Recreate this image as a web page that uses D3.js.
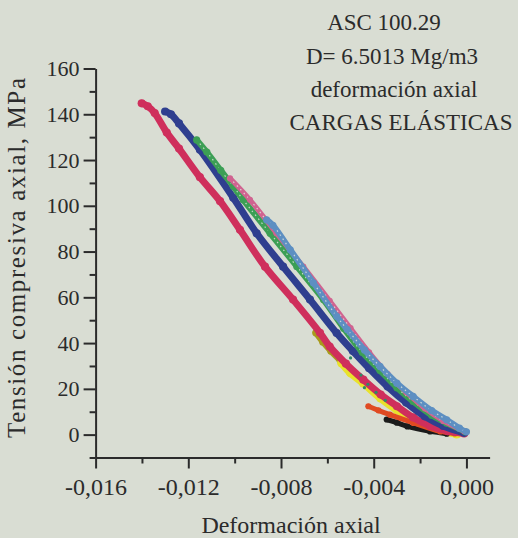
<!DOCTYPE html>
<html>
<head>
<meta charset="utf-8">
<script src="https://cdn.jsdelivr.net/npm/d3@7"></script>
<style>
  html, body { margin: 0; padding: 0; background: #d9ddd3; }
  svg { display: block; }
  text { font-family: "Liberation Serif", "Times New Roman", serif; fill: #2b2b2b; }
</style>
</head>
<body>
<svg id="chart" width="518" height="538"></svg>
<script>
// Ensayo ASC 100.29: ciclos de carga elástica, deformación axial vs. tensión (MPa)
const tituloLineas = ["ASC 100.29", "D= 6.5013 Mg/m3", "deformación axial", "CARGAS ELÁSTICAS"];
const ejeX = "Deformación axial";
const ejeY = "Tensión compresiva axial, MPa";

const ticksX = [-0.016, -0.012, -0.008, -0.004, 0.000];
const ticksXMenores = [-0.014, -0.010, -0.006, -0.002];
const ticksY = [0, 20, 40, 60, 80, 100, 120, 140, 160];
const ticksYMenores = [-10, 10, 30, 50, 70, 90, 110, 130, 150];

// [deformación, tensión MPa]
const cicloCarmesi = [
  [-0.01401, 144.8], [-0.01375, 143.5], [-0.01345, 140.5], [-0.01293, 132], [-0.01240, 125],
  [-0.01150, 112.5], [-0.01063, 102], [-0.00977, 89.5], [-0.00869, 73.4], [-0.00748, 59],
  [-0.00632, 44.5], [-0.00590, 38.5], [-0.00520, 31], [-0.00445, 24], [-0.00370, 17.5],
  [-0.00300, 12.4], [-0.00230, 7.5], [-0.00157, 3.8], [-0.00080, 1.5], [-0.00010, 0.5]
];
const cicloAzul = [
  [-0.01300, 141.2], [-0.01275, 140], [-0.01240, 136], [-0.01150, 124.5], [-0.01006, 103.5],
  [-0.00905, 88], [-0.00791, 73.4], [-0.00675, 59], [-0.00560, 44.4], [-0.00490, 36.5],
  [-0.00420, 29], [-0.00340, 21], [-0.00260, 14], [-0.00180, 8], [-0.00100, 3.8], [-0.00010, 0.8]
];
const cicloVerde = [
  [-0.01164, 128.8], [-0.01120, 123.5], [-0.01060, 115.5], [-0.01006, 108.5], [-0.00963, 102.6],
  [-0.00847, 88], [-0.00732, 73.5], [-0.00617, 59], [-0.00530, 46.5], [-0.00450, 36],
  [-0.00373, 28], [-0.00300, 20.5], [-0.00230, 14.5], [-0.00150, 8.5], [-0.00085, 5], [-0.00005, 1.2]
];
const cicloRosa = [
  [-0.01020, 112], [-0.00934, 102.6], [-0.00820, 88], [-0.00704, 73.4], [-0.00590, 58.5],
  [-0.00500, 46.5], [-0.00420, 36], [-0.00340, 26.5], [-0.00260, 18.5], [-0.00180, 11.5],
  [-0.00100, 6], [-0.00010, 1.5]
];
const cicloCeleste = [
  [-0.00862, 93.9], [-0.00835, 91.5], [-0.00760, 80.8], [-0.00660, 66.3], [-0.00560, 51.7],
  [-0.00514, 45.9], [-0.00440, 37], [-0.00373, 29.8], [-0.00300, 22.5], [-0.00230, 16.7],
  [-0.00150, 10.5], [-0.00085, 6.5], [-0.00030, 2.8], [0.00000, 1.2]
];
const cicloOliva = [
  [-0.00650, 44.5], [-0.00620, 40.5], [-0.00585, 36.5], [-0.00545, 32.5]
];
const cicloAmarillo = [
  [-0.00538, 31.3], [-0.00500, 27], [-0.00445, 22.6], [-0.00370, 16], [-0.00300, 10.9],
  [-0.00230, 6.8], [-0.00157, 3.6], [-0.00090, 1.4], [-0.00042, 0.3]
];
const cicloNaranja = [
  [-0.00423, 12.4], [-0.00380, 10.6], [-0.00330, 8.7], [-0.00229, 5.1], [-0.00113, 1.4], [-0.00050, 0.5]
];
const cicloNegro = [
  [-0.00344, 6.6], [-0.00300, 5.2], [-0.00255, 3.6], [-0.00157, 1.4], [-0.00085, 0.4]
];
const puntosSueltos = [
  [-0.00500, 33.5], [-0.00455, 26], [-0.00425, 22], [-0.00390, 18.5], [-0.00440, 20.5], [-0.00350, 15]
];

const series = [
  { datos: cicloOliva, color: "#a89a1c", ancho: 6, hueco: false },
  { datos: cicloAmarillo, color: "#e8e22c", ancho: 8, hueco: false },
  { datos: cicloNegro, color: "#1b1b1b", ancho: 5, hueco: false },
  { datos: cicloNaranja, color: "#e04a22", ancho: 5, hueco: false },
  { datos: cicloCarmesi, color: "#cf2f5c", ancho: 7, hueco: false },
  { datos: cicloAzul, color: "#2f3f8f", ancho: 7, hueco: false },
  { datos: cicloVerde, color: "#3c9f55", ancho: 6, hueco: true },
  { datos: cicloRosa, color: "#d06390", ancho: 5, hueco: true },
  { datos: cicloCeleste, color: "#5d8fc2", ancho: 6, hueco: true }
];

const svg = d3.select("#chart");

const x = d3.scaleLinear().domain([-0.016, 0.001]).range([95.6, 489.6]);
const y = d3.scaleLinear().domain([-10, 160]).range([457.5, 68.5]);

const formatoX = v => d3.format(".3f")(v).replace("−", "-").replace(".", ",");

// Ejes
const gx = svg.append("g").attr("transform", `translate(0,${y(-10)})`);
gx.call(d3.axisBottom(x).tickValues(ticksX).tickSize(11).tickSizeOuter(0).tickPadding(9).tickFormat(formatoX));
gx.append("g").call(d3.axisBottom(x).tickValues(ticksXMenores).tickSize(6).tickSizeOuter(0).tickFormat(""))
  .select(".domain").remove();
gx.selectAll("text").attr("font-size", 24).attr("dy", "0.71em");

const gy = svg.append("g").attr("transform", `translate(${x(-0.016)},0)`);
gy.call(d3.axisLeft(y).tickValues(ticksY).tickSize(12).tickSizeOuter(0).tickPadding(4).tickFormat(d3.format("d")));
gy.append("g").call(d3.axisLeft(y).tickValues(ticksYMenores).tickSize(6).tickSizeOuter(0).tickFormat(""))
  .select(".domain").remove();
gy.selectAll("text").attr("font-size", 22);

svg.selectAll(".domain, .tick line").attr("stroke", "#2b2b2b").attr("stroke-width", 2);
svg.selectAll(".tick text").attr("fill", "#2b2b2b");

// Curvas de carga
const linea = d3.line().x(d => x(d[0])).y(d => y(d[1])).curve(d3.curveCatmullRom.alpha(0.5));
const capa = svg.append("g");
series.forEach(s => {
  capa.append("path").attr("d", linea(s.datos)).attr("fill", "none")
    .attr("stroke", s.color).attr("stroke-width", s.ancho)
    .attr("stroke-linecap", "round").attr("stroke-linejoin", "round");
  if (s.hueco) {
    capa.append("path").attr("d", linea(s.datos)).attr("fill", "none")
      .attr("stroke", "#e4e8e0").attr("stroke-width", 1.2)
      .attr("stroke-dasharray", "1.5 3.5").attr("opacity", 0.8);
  }
  capa.selectAll(null).data(s.datos).join("circle")
    .attr("cx", d => x(d[0])).attr("cy", d => y(d[1])).attr("r", s.ancho / 2 + 0.6)
    .attr("fill", s.color);
});
capa.selectAll(null).data(puntosSueltos).join("circle")
  .attr("cx", d => x(d[0])).attr("cy", d => y(d[1])).attr("r", 1.6).attr("fill", "#2e8a66");

// Títulos
const posTitulo = [[384, 30], [392, 64], [394, 97], [401, 130]];
svg.append("g").selectAll("text").data(tituloLineas).join("text")
  .attr("x", (d, i) => posTitulo[i][0]).attr("y", (d, i) => posTitulo[i][1])
  .attr("text-anchor", "middle").attr("font-size", 23).text(d => d);

svg.append("text").attr("x", 291).attr("y", 533).attr("text-anchor", "middle")
  .attr("font-size", 24).text(ejeX);

svg.append("text").attr("transform", "translate(25,258) rotate(-90)")
  .attr("text-anchor", "middle").attr("font-size", 25)
  .attr("textLength", 360).attr("lengthAdjust", "spacing").text(ejeY);
</script>
</body>
</html>
